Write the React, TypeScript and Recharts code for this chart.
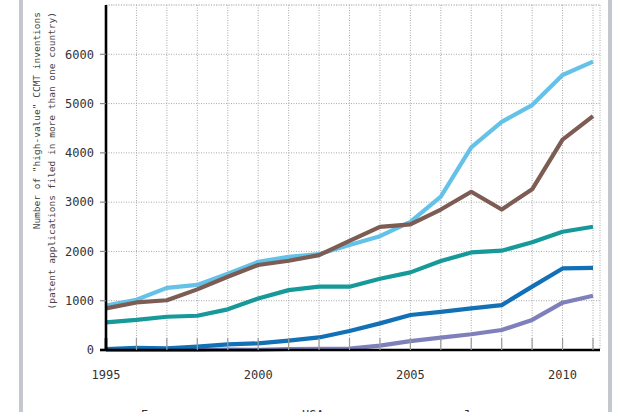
import { CartesianGrid, Label, Line, LineChart, XAxis, YAxis } from "recharts";

const years = [1995, 1996, 1997, 1998, 1999, 2000, 2001, 2002, 2003, 2004, 2005, 2006, 2007, 2008, 2009, 2010, 2011];
const europe = [900, 1020, 1260, 1320, 1550, 1790, 1890, 1945, 2130, 2310, 2600, 3110, 4110, 4630, 4970, 5580, 5850];
const japan = [845, 965, 1010, 1230, 1485, 1725, 1810, 1925, 2215, 2500, 2550, 2850, 3210, 2850, 3260, 4270, 4745];
const usa = [560, 610, 675, 695, 825, 1045, 1215, 1285, 1285, 1445, 1575, 1805, 1980, 2015, 2185, 2400, 2500];
const korea = [20, 45, 35, 70, 115, 135, 190, 255, 385, 540, 710, 775, 845, 910, 1285, 1655, 1665];
const china = [0, 0, 0, 0, 10, 5, 20, 25, 30, 90, 180, 250, 320, 405, 610, 960, 1100];

const yTicks = [0, 1000, 2000, 3000, 4000, 5000, 6000];
const yMinorTicks = [500, 1500, 2500, 3500, 4500, 5500, 6500];
const legendNames = ["Europe", "USA", "Japan"];

const data = years.map((year, i) => ({
  year,
  europe: europe[i],
  japan: japan[i],
  usa: usa[i],
  korea: korea[i],
  china: china[i],
}));

// drawn bottom to top
const series = [
  { key: "china", color: "#7f80bb" },
  { key: "korea", color: "#1170b6" },
  { key: "usa", color: "#17999a" },
  { key: "europe", color: "#64c2e8" },
  { key: "japan", color: "#7c5c53" },
];

const FONT = "'DejaVu Sans Mono', monospace";
const X_TICK = 12;
const X_MARGIN = 20;
const Y_TICK = 6;
const Y_MARGIN = 6;

function XTick(props: any) {
  const { x, y, payload } = props;
  const top = y - X_MARGIN - X_TICK;
  const first = payload.value === years[0];
  return (
    <g>
      <line
        x1={x}
        x2={x}
        y1={top}
        y2={top + X_TICK}
        stroke={first ? "#000" : "#9a9a9a"}
        strokeWidth={first ? 2.6 : 1.2}
      />
      {payload.value % 5 === 0 && (
        <text x={x} y={y} dy="0.71em" textAnchor="middle" fontFamily={FONT} fontSize={12} fill="#333">
          {payload.value}
        </text>
      )}
    </g>
  );
}

function YTick(props: any) {
  const { x, y, payload } = props;
  const left = x + Y_MARGIN;
  const zero = payload.value === 0;
  return (
    <g>
      <line
        x1={left}
        x2={left + Y_TICK}
        y1={y}
        y2={y}
        stroke={zero ? "#000" : "#8a8a8a"}
        strokeWidth={zero ? 2.6 : 1.2}
      />
      <text x={x} y={y} dy="0.355em" textAnchor="end" fontFamily={FONT} fontSize={12} fill="#333">
        {payload.value}
      </text>
    </g>
  );
}

function AxisTitle() {
  return (
    <g fontFamily={FONT} fontSize={9.5} fill="#444">
      <text transform="translate(39.5,12) rotate(-90)" textAnchor="end">
        Number of "high-value" CCMT inventions
      </text>
      <text transform="translate(54.5,12) rotate(-90)" textAnchor="end">
        (patent applications filed in more than one country)
      </text>
    </g>
  );
}

export default function App() {
  return (
    <div
      style={{
        position: "absolute",
        left: 0,
        top: 0,
        width: 630,
        height: 412,
        overflow: "hidden",
        background: "#fff",
      }}
    >
      <div style={{ position: "absolute", left: 19, top: 0, width: 4, height: 412, background: "#c4c7cd" }} />
      <div style={{ position: "absolute", left: 608, top: 0, width: 4, height: 412, background: "#c4c7cd" }} />
      <LineChart width={630} height={412} data={data} margin={{ top: 5, right: 30, left: 0, bottom: 0 }}>
        <CartesianGrid
          yAxisId="minor"
          vertical={false}
          stroke="#d4d4d4"
          strokeDasharray="1 2"
        />
        <CartesianGrid stroke="#a8a8a8" strokeDasharray="1 1.5" />
        <XAxis
          dataKey="year"
          type="number"
          domain={[1995, 2011]}
          ticks={years}
          interval={0}
          height={62}
          padding={{ left: 0, right: 7 }}
          tickSize={X_TICK}
          tickMargin={X_MARGIN - X_TICK}
          tickLine={false}
          tick={<XTick />}
          axisLine={{ stroke: "#000", strokeWidth: 2.6 }}
        />
        <YAxis
          yAxisId="minor"
          hide
          type="number"
          domain={[0, 7000]}
          ticks={yMinorTicks}
        />
        <YAxis
          type="number"
          domain={[0, 7000]}
          ticks={yTicks}
          interval={0}
          width={106}
          tickSize={Y_TICK}
          tickMargin={Y_MARGIN}
          tickLine={false}
          tick={<YTick />}
          axisLine={{ stroke: "#000", strokeWidth: 2.6 }}
        >
          <Label content={<AxisTitle />} />
        </YAxis>
        {series.map((s) => (
          <Line
            key={s.key}
            dataKey={s.key}
            type="linear"
            stroke={s.color}
            strokeWidth={4.2}
            strokeLinejoin="round"
            dot={false}
            activeDot={false}
            isAnimationActive={false}
          />
        ))}
      </LineChart>
      <div
        style={{
          position: "absolute",
          left: 141,
          top: 408.5,
          display: "flex",
          fontFamily: FONT,
          fontSize: 12,
          lineHeight: "12px",
          color: "#333",
        }}
      >
        {legendNames.map((n) => (
          <span key={n} style={{ width: 161 }}>
            {n}
          </span>
        ))}
      </div>
    </div>
  );
}
